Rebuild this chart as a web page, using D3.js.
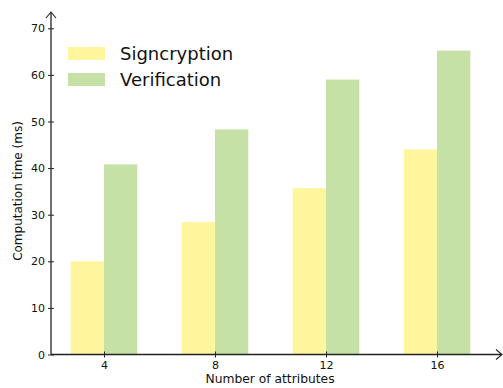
<!DOCTYPE html>
<html>
<head>
<meta charset="utf-8">
<script src="https://cdn.jsdelivr.net/npm/d3@7"></script>
<style>
body { margin: 0; background: #fff; }
svg { display: block; font-family: "DejaVu Sans", sans-serif; }
</style>
</head>
<body>
<div id="graphHere"></div>
<script>
var attributes = [4, 8, 12, 16];
var signcryption = [20, 28.4, 35.7, 44.0];
var verification = [40.8, 48.3, 59.0, 65.2];
var yTicks = [0, 10, 20, 30, 40, 50, 60, 70];
var seriesNames = ["Signcryption", "Verification"];
var seriesColors = ["#fff59d", "#c5e1a5"];

var width = 503, height = 388;
var axisColor = "#222";

var svg = d3.select("#graphHere").append("svg")
    .attr("width", width)
    .attr("height", height);

var x = d3.scaleLinear().domain([4, 16]).range([104, 437]);
var y = d3.scaleLinear().domain([0, 70]).range([354.5, 28.3]);
var barW = (x(8) - x(4)) * 0.3;

// bars
var series = [signcryption, verification];
series.forEach(function(vals, s) {
  svg.append("g").selectAll("rect")
    .data(vals)
    .enter().append("rect")
    .attr("x", function(d, i) { return x(attributes[i]) + (s - 1) * barW; })
    .attr("y", function(d) { return y(d); })
    .attr("width", barW)
    .attr("height", function(d) { return y(0) - y(d); })
    .attr("fill", seriesColors[s]);
});

// y axis
var yAxis = svg.append("g")
  .attr("transform", "translate(51,0)")
  .call(d3.axisLeft(y).tickValues(yTicks).tickSize(3).tickPadding(3));
yAxis.select(".domain").remove();
yAxis.selectAll(".tick line").attr("x2", 3).attr("x1", -3).attr("stroke", axisColor);
yAxis.selectAll(".tick text").attr("font-size", 11).attr("fill", "#111")
  .attr("font-family", "DejaVu Sans");

// x axis
var xAxis = svg.append("g")
  .attr("transform", "translate(0," + y(0) + ")")
  .call(d3.axisBottom(x).tickValues(attributes).tickSize(3).tickPadding(4));
xAxis.select(".domain").remove();
xAxis.selectAll(".tick line").attr("y1", -3).attr("y2", 3).attr("stroke", axisColor);
xAxis.selectAll(".tick text").attr("font-size", 11).attr("fill", "#111")
  .attr("font-family", "DejaVu Sans");

// axis lines with arrows
svg.append("line")
  .attr("x1", 51).attr("y1", y(0)).attr("x2", 51).attr("y2", 12)
  .attr("stroke", axisColor).attr("stroke-width", 1.3);
svg.append("path")
  .attr("d", "M46,18 L51,12 L56,18")
  .attr("fill", "none").attr("stroke", axisColor).attr("stroke-width", 1.1);
svg.append("line")
  .attr("x1", 51).attr("y1", y(0)).attr("x2", 502).attr("y2", y(0))
  .attr("stroke", axisColor).attr("stroke-width", 1.3);
svg.append("path")
  .attr("d", "M496," + (y(0) - 5) + " L502," + y(0) + " L496," + (y(0) + 5))
  .attr("fill", "none").attr("stroke", axisColor).attr("stroke-width", 1.1);

// axis labels
svg.append("text")
  .attr("x", 270).attr("y", 383)
  .attr("text-anchor", "middle")
  .attr("font-size", 12.3).attr("fill", "#111")
  .text("Number of attributes");
svg.append("text")
  .attr("transform", "translate(22,191) rotate(-90)")
  .attr("text-anchor", "middle")
  .attr("font-size", 12).attr("fill", "#111")
  .text("Computation time (ms)");

// legend
var legend = svg.append("g");
seriesNames.forEach(function(name, i) {
  legend.append("rect")
    .attr("x", 68).attr("y", 47 + i * 26)
    .attr("width", 37).attr("height", 13)
    .attr("fill", seriesColors[i]);
  legend.append("text")
    .attr("x", 120).attr("y", 59.5 + i * 26)
    .attr("font-size", 18).attr("fill", "#111")
    .text(name);
});
</script>
</body>
</html>
